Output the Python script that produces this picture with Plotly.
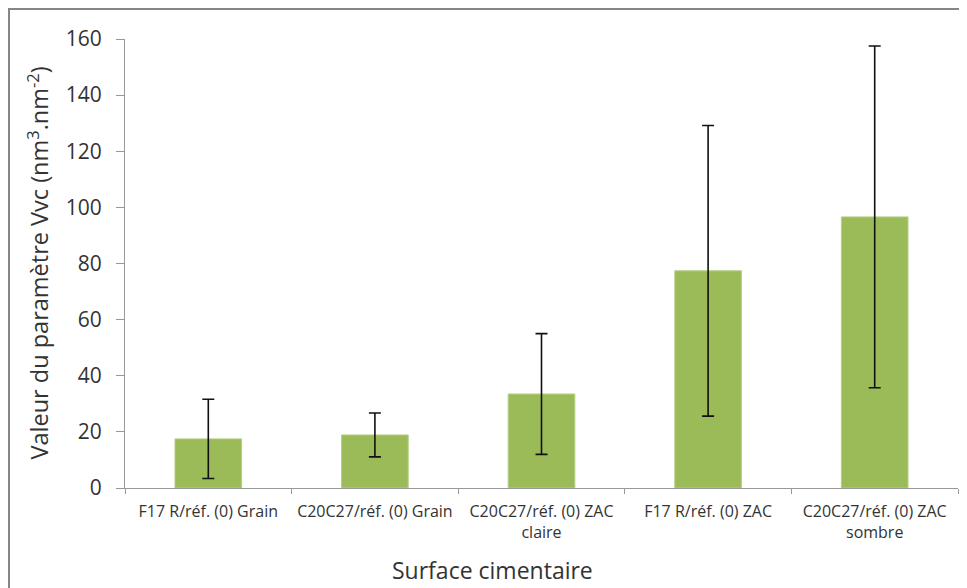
import plotly.graph_objects as go

categories = [
    "F17 R/réf. (0) Grain",
    "C20C27/réf. (0) Grain",
    "C20C27/réf. (0) ZAC<br>claire",
    "F17 R/réf. (0) ZAC",
    "C20C27/réf. (0) ZAC<br>sombre",
]
values = [17.5, 18.9, 33.5, 77.4, 96.6]
errors = [14.1, 7.8, 21.5, 51.8, 60.9]
y_ticks = [0, 20, 40, 60, 80, 100, 120, 140, 160]

# page has an 8px body margin: figure is offset by (8, 8)
OFF = 8
W, H = 967 - OFF, 588 - OFF
L, R, T, B = 125 - OFF, 9, 39 - OFF, 100
PW, PH = W - L - R, H - T - B

fig = go.Figure()
fig.add_trace(go.Bar(
    x=categories, y=values, width=0.4,
    marker=dict(color="#9BBB59", line=dict(color="#b5cf84", width=1)),
    error_y=dict(type="data", array=errors, visible=True,
                 color="#111111", thickness=1.6, width=6),
))

font_family = "Open Sans, Noto Sans, sans-serif"
fig.update_layout(
    width=W, height=H,
    margin=dict(l=L, r=R, t=T, b=B),
    paper_bgcolor="white", plot_bgcolor="white",
    showlegend=False,
    font=dict(family=font_family, color="#333333"),
    xaxis=dict(
        showline=True, linecolor="#999999", linewidth=1,
        ticks="outside", tickson="boundaries", ticklen=5, tickcolor="#999999",
        tickfont=dict(size=16, color="#333333"),
        showgrid=False, ticklabelstandoff=9,
    ),
    yaxis=dict(
        range=[0, 160], tickvals=y_ticks,
        showline=True, linecolor="#999999", linewidth=1,
        ticks="outside", ticklen=8, tickcolor="#999999",
        tickfont=dict(size=21, color="#333333"),
        showgrid=False, zeroline=False,
        ticklabelstandoff=10,
    ),
    annotations=[
        dict(text="Valeur du paramètre Vvc (nm<sup>3</sup>.nm<sup>-2</sup>)",
             textangle=-90, xref="paper", yref="paper",
             x=(38 - OFF - L) / PW, y=0.5, xanchor="center", yanchor="middle",
             showarrow=False, font=dict(size=23.5, color="#333333")),
        dict(text="Surface cimentaire",
             xref="paper", yref="paper",
             x=(492 - OFF - L) / PW, y=-(570 - OFF - (H - B)) / PH,
             xanchor="center", yanchor="middle",
             showarrow=False, font=dict(size=23, color="#333333")),
    ],
    shapes=[
        dict(type="rect", xref="paper", yref="paper",
             x0=-(L - 1) / PW, x1=(W + 5 - L) / PW,
             y0=-(H + 10 - (H - B)) / PH, y1=1 + (T - 1) / PH,
             line=dict(color="#868686", width=2), fillcolor="rgba(0,0,0,0)",
             layer="below"),
    ],
)

fig.write_html("out.html")
